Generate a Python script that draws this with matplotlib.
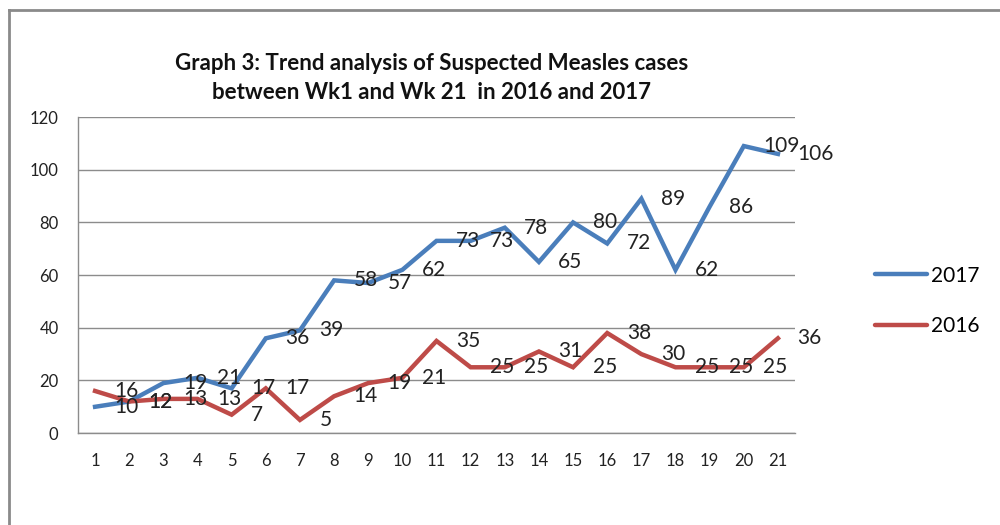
import numpy as np
import matplotlib.pyplot as plt
from matplotlib.lines import Line2D

plt.rcParams['font.family'] = ['Lato', 'DejaVu Sans']

weeks = list(range(1, 22))
cases_2017 = [10, 12, 19, 21, 17, 36, 39, 58, 57, 62, 73, 73, 78, 65, 80, 72, 89, 62, 86, 109, 106]
cases_2016 = [16, 12, 13, 13, 7, 17, 5, 14, 19, 21, 35, 25, 25, 31, 25, 38, 30, 25, 25, 25, 36]

blue = '#4a7ebb'
red = '#be4b48'
grid_col = '#8c8c8c'

fig = plt.figure(figsize=(10, 5.25), dpi=100)
ax = fig.add_axes([0.078, 0.175, 0.717, 0.602])

ax.plot(weeks, cases_2017, color=blue, lw=3.2, solid_joinstyle='miter', label='2017', zorder=3)
ax.plot(weeks, cases_2016, color=red, lw=3.2, solid_joinstyle='miter', label='2016', zorder=3)

# data labels to the right of each point (Excel style)
for series in (cases_2017, cases_2016):
    for x, v in zip(weeks, series):
        ax.annotate(str(v), (x, v), xytext=(14, 0), textcoords='offset points',
                    ha='left', va='center', fontsize=15, color='#222222', zorder=4)

ax.set_xlim(0.5, 21.5)
ax.set_ylim(0, 120)
ax.set_yticks(np.arange(0, 121, 20))
ax.set_xticks(weeks)
ax.tick_params(length=0, labelsize=12, colors='#222222')
ax.tick_params(axis='y', pad=14)
ax.tick_params(axis='x', pad=14)
ax.grid(axis='y', color=grid_col, lw=1)
ax.set_axisbelow(True)
for s in ('top', 'right'):
    ax.spines[s].set_visible(False)
for s in ('left', 'bottom'):
    ax.spines[s].set_color(grid_col)
    ax.spines[s].set_linewidth(1)

fig.text(0.432, 0.852, 'Graph 3: Trend analysis of Suspected Measles cases\nbetween Wk1 and Wk 21  in 2016 and 2017',
         ha='center', va='center', fontsize=16, fontweight='bold', linespacing=1.45, color='#111111')

leg = fig.legend(loc='center left', bbox_to_anchor=(0.856, 0.427), frameon=False,
                 fontsize=15, handlelength=2.5, handletextpad=0.2, labelspacing=1.45)
for line in leg.get_lines():
    line.set_linewidth(3.2)
    line.set_solid_capstyle('round')

# outer chart frame
fig.add_artist(Line2D([0.009, 0.009], [0, 0.981], color='#8a8a8a', lw=2, transform=fig.transFigure))
fig.add_artist(Line2D([0.009, 1.0], [0.981, 0.981], color='#8a8a8a', lw=2, transform=fig.transFigure))

fig.savefig('out.png', dpi=100)
